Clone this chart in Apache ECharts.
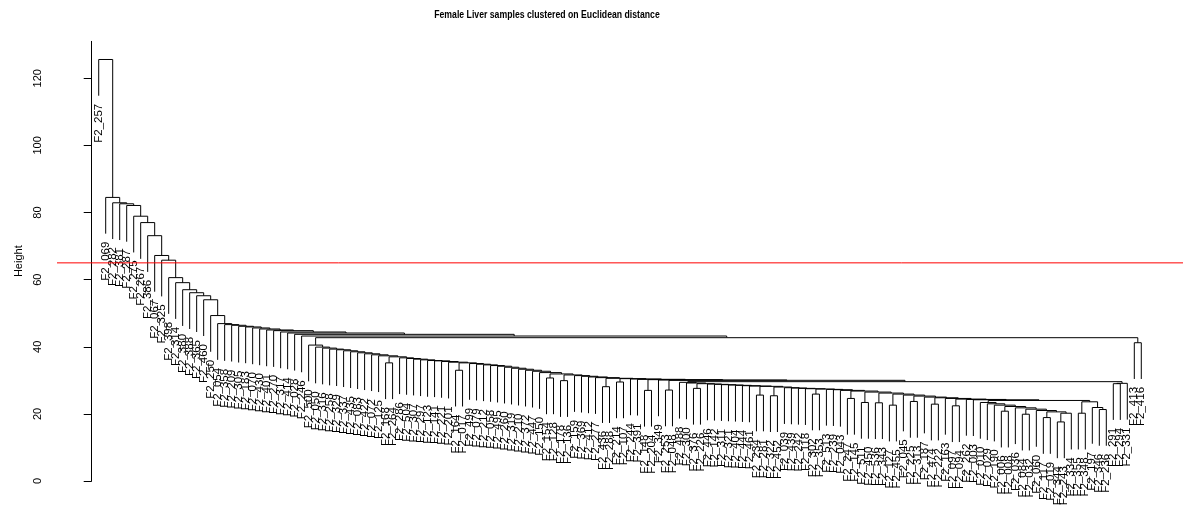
<!DOCTYPE html>
<html>
<head>
<meta charset="utf-8">
<title>Female Liver samples clustered on Euclidean distance</title>
<script src="https://cdn.jsdelivr.net/npm/echarts@6/dist/echarts.min.js"></script>
<style>
  html, body { margin: 0; padding: 0; background: #fff; }
  #main { width: 1183px; height: 510px; }
</style>
</head>
<body>
<div id="main"></div>
<script>
// leaf labels, in the order they sit along the x axis
var leafLabels = [
  'F2_257', 'F2_069', 'F2_282', 'F2_381', 'F2_287', 'F2_275', 'F2_267', 'F2_386', 'F2_067', 'F2_325',
  'F2_398', 'F2_314', 'F2_380', 'F2_388', 'F2_365', 'F2_460', 'F2_250', 'F2_054', 'F2_358', 'F2_209',
  'F2_305', 'F2_183', 'F2_070', 'F2_430', 'F2_401', 'F2_270', 'F2_317', 'F2_414', 'F2_028', 'F2_246',
  'F2_500', 'F2_050', 'F2_316', 'F2_258', 'F2_329', 'F2_337', 'F2_435', 'F2_083', 'F2_422', 'F2_072',
  'F2_125', 'F2_168', 'F2_264', 'F2_286', 'F2_504', 'F2_307', 'F2_297', 'F2_123', 'F2_141', 'F2_221',
  'F2_201', 'F2_164', 'F2_017', 'F2_499', 'F2_079', 'F2_212', 'F2_058', 'F2_495', 'F2_260', 'F2_319',
  'F2_210', 'F2_372', 'F2_447', 'F2_150', 'F2_154', 'F2_128', 'F2_178', 'F2_136', 'F2_159', 'F2_369',
  'F2_412', 'F2_277', 'F2_436', 'F2_288', 'F2_214', 'F2_107', 'F2_244', 'F2_391', 'F2_148', 'F2_204',
  'F2_349', 'F2_253', 'F2_048', 'F2_488', 'F2_300', 'F2_376', 'F2_226', 'F2_446', 'F2_142', 'F2_311',
  'F2_321', 'F2_404', 'F2_444', 'F2_461', 'F2_234', 'F2_281', 'F2_322', 'F2_452', 'F2_039', 'F2_439',
  'F2_242', 'F2_118', 'F2_302', 'F2_353', 'F2_513', 'F2_239', 'F2_043', 'F2_247', 'F2_145', 'F2_511',
  'F2_450', 'F2_536', 'F2_343', 'F2_127', 'F2_455', 'F2_045', 'F2_225', 'F2_313', 'F2_187', 'F2_474',
  'F2_222', 'F2_163', 'F2_097', 'F2_094', 'F2_262', 'F2_003', 'F2_010', 'F2_029', 'F2_190', 'F2_006',
  'F2_008', 'F2_036', 'F2_084', 'F2_032', 'F2_060', 'F2_117', 'F2_019', 'F2_344', 'F2_243', 'F2_334',
  'F2_355', 'F2_348', 'F2_197', 'F2_346', 'F2_236', 'F2_291', 'F2_294', 'F2_331', 'F2_413', 'F2_416'
];

// height at which each leaf first joins the leaf to its right (149 values)
var joinHeights = [
  // left chain
  125.6, 84.5, 82.9, 82.6, 82.1, 78.9, 77.0, 73.1, 67.2, 65.8,
  60.6, 59.1, 57.0, 56.1, 55.2, 54.0, 49.3, 46.9, 46.6, 46.4,
  46.1, 45.9, 45.6, 45.3, 45.0, 44.8, 44.4, 44.1, 43.7, 43.2,
  // main body
  40.5, 39.9, 39.6, 39.3, 39.1, 38.8, 38.5, 38.2, 37.9, 37.6,
  37.3, 35.2, 37.0, 36.7, 36.5, 36.3, 36.1, 35.9, 35.8, 35.6,
  35.4, 33.0, 35.2, 35.0, 34.8, 34.6, 34.4, 34.2, 33.9, 33.6,
  33.3, 33.0, 32.7, 32.3, 30.7, 31.9, 29.9, 31.6, 31.4, 31.2,
  31.0, 30.8, 28.1, 30.6, 29.5, 30.5, 30.4, 30.3, 27.0, 30.2,
  30.1, 27.1, 30.0,
  // right block
  29.4, 29.2, 27.6, 29.0, 28.9, 28.8, 28.7, 28.6, 28.5, 28.4,
  28.3, 25.6, 28.2, 25.4, 28.0, 27.8, 27.7, 27.6, 27.5, 25.9,
  27.4, 27.3, 27.2, 27.0, 24.6, 26.8, 23.4, 26.5, 23.3, 26.2,
  22.6, 25.9, 25.6, 23.7, 25.3, 25.0, 22.9, 24.8, 24.6, 22.4,
  24.4, 24.3, 24.2, 23.4, 23.0, 22.6, 20.8, 22.2, 21.8, 19.9,
  21.4, 21.0, 18.9, 20.6, 17.6, 20.2, 24.0, 20.2, 23.6, 21.9,
  21.3, 29.6,
  // last small groups
  29.0, 29.1, 42.7, 41.2
];

var cutHeight = 65;
var yTicks = [0, 20, 40, 60, 80, 100, 120];
var yTop = 131;

// R style: leaves hang 10% of the height range below their merge
var hMax = Math.max.apply(null, joinHeights);
var hMin = Math.min.apply(null, joinHeights);
var hang = 0.1 * (hMax - hMin);
var n = leafLabels.length;

// rebuild the tree: the highest join in a range splits it in two
function buildTree(a, b) {
  if (a === b) return { leaf: true, idx: a, x: a + 1 };
  var m = a;
  for (var i = a + 1; i < b; i++) {
    if (joinHeights[i] > joinHeights[m]) m = i;
  }
  var left = buildTree(a, m);
  var right = buildTree(m + 1, b);
  return { leaf: false, h: joinHeights[m], left: left, right: right, x: (left.x + right.x) / 2 };
}

var segments = [];
var leafPoints = [];

function collect(node) {
  if (node.leaf) return;
  [node.left, node.right].forEach(function (child) {
    var bottom = child.leaf ? node.h - hang : child.h;
    segments.push([child.x, node.h, child.x, bottom]);
    if (child.leaf) leafPoints[child.idx] = [child.x, bottom];
    collect(child);
  });
  segments.push([node.left.x, node.h, node.right.x, node.h]);
}

collect(buildTree(0, n - 1));

var myChart = echarts.init(document.getElementById('main'));

var option = {
  animation: false,
  backgroundColor: '#fff',
  textStyle: { fontFamily: 'Liberation Sans' },
  grid: { left: 57, right: 0, top: 481 - yTop * 3.356, bottom: 29 },
  xAxis: {
    type: 'value',
    min: 1 - 0.04 * (n - 1),
    max: n + 0.04 * (n - 1),
    show: false
  },
  yAxis: {
    type: 'value',
    min: 0,
    max: yTop,
    name: 'Height',
    nameLocation: 'middle',
    nameRotate: 90,
    nameGap: 29,
    nameTextStyle: { color: '#000', fontSize: 11, fontFamily: 'Liberation Sans' },
    axisLine: { show: true, lineStyle: { color: '#000', width: 1 } },
    axisTick: { show: true, length: 8, customValues: yTicks, lineStyle: { color: '#000', width: 1 } },
    axisLabel: { customValues: yTicks, rotate: 90, color: '#000', fontSize: 11, fontFamily: 'Liberation Sans', margin: 14 },
    splitLine: { show: false }
  },
  graphic: [{
    type: 'text',
    x: 547,
    y: 15,
    scaleX: 0.79,
    style: {
      text: 'Female Liver samples clustered on Euclidean distance',
      font: 'bold 11px "Liberation Sans"',
      fill: '#000',
      align: 'center',
      verticalAlign: 'middle'
    }
  }],
  series: [
    {
      // dendrogram branches
      type: 'custom',
      clip: false,
      silent: true,
      encode: { x: [0, 2], y: [1, 3] },
      data: segments,
      renderItem: function (params, api) {
        var p1 = api.coord([api.value(0), api.value(1)]);
        var p2 = api.coord([api.value(2), api.value(3)]);
        return {
          type: 'line',
          shape: { x1: p1[0], y1: p1[1], x2: p2[0], y2: p2[1] },
          style: { stroke: '#000', lineWidth: 1 }
        };
      }
    },
    {
      // leaf labels, read bottom to top below each leaf
      type: 'custom',
      clip: false,
      silent: true,
      encode: { x: 0, y: 1 },
      data: leafPoints,
      renderItem: function (params, api) {
        var p = api.coord([api.value(0), api.value(1)]);
        return {
          type: 'text',
          x: p[0],
          y: p[1] + 8,
          rotation: Math.PI / 2,
          style: {
            text: leafLabels[params.dataIndex],
            font: '11.5px "Liberation Sans"',
            fill: '#000',
            align: 'right',
            verticalAlign: 'middle'
          }
        };
      }
    },
    {
      // red cut line across the whole plot
      type: 'custom',
      silent: true,
      encode: { y: 0 },
      data: [[cutHeight]],
      renderItem: function (params, api) {
        var cs = params.coordSys;
        var y = api.coord([0, api.value(0)])[1];
        return {
          type: 'line',
          shape: { x1: cs.x, y1: y, x2: cs.x + cs.width, y2: y },
          style: { stroke: '#ff0000', lineWidth: 1 }
        };
      }
    }
  ]
};

myChart.setOption(option);
</script>
</body>
</html>
